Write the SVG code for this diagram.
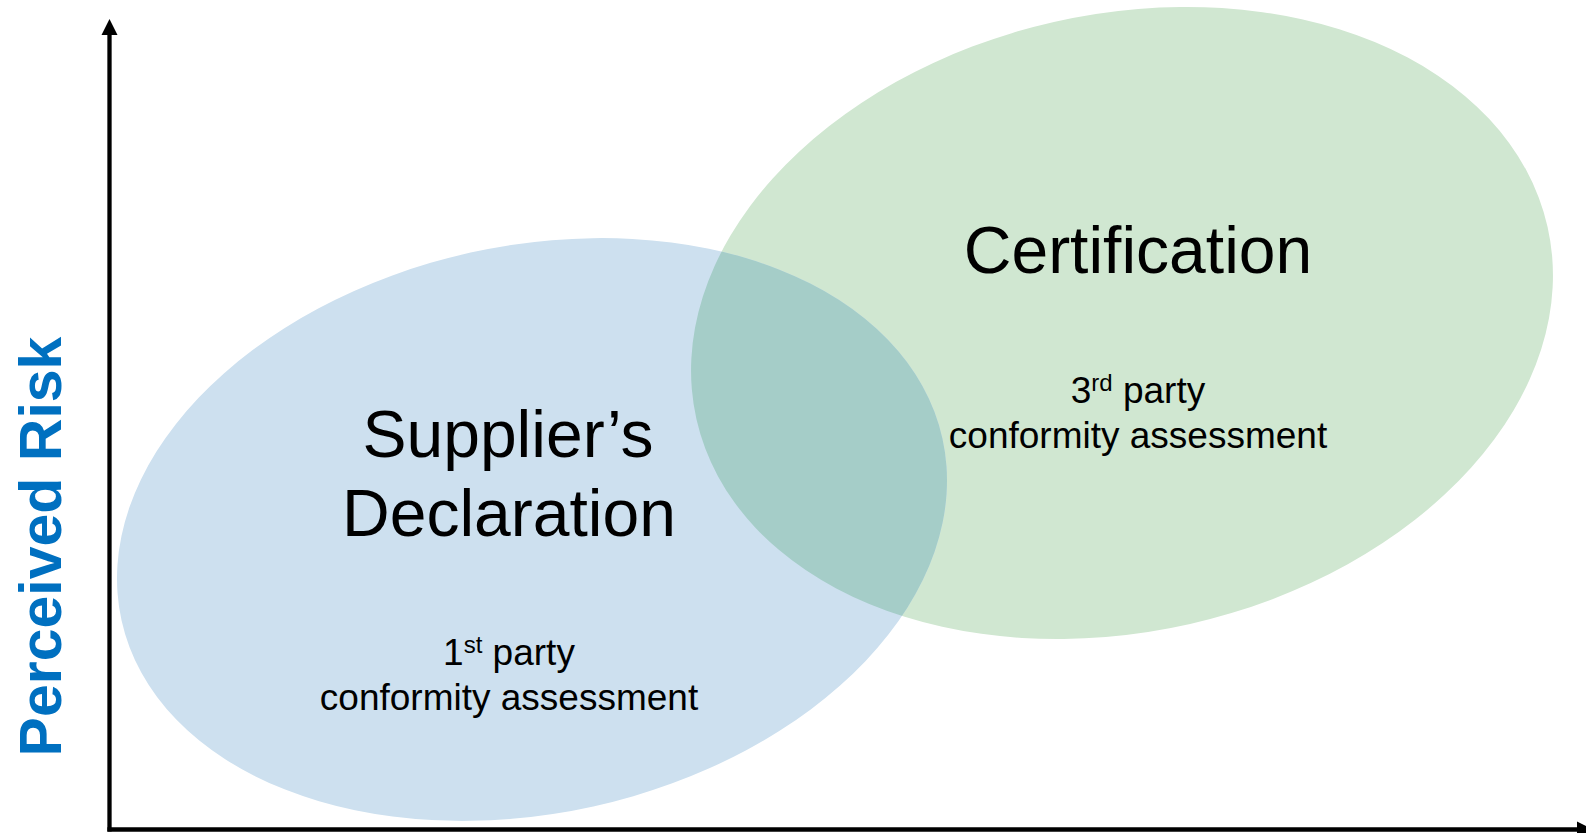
<svg xmlns="http://www.w3.org/2000/svg" width="1586" height="833" viewBox="0 0 1586 833">
<style>
.big{font-family:"Liberation Sans",Arial,sans-serif;font-size:66px;fill:#000;text-anchor:middle}
.small{font-family:"Liberation Sans",Arial,sans-serif;font-size:37px;fill:#000;text-anchor:middle}
.sup{font-size:24px}
.axis{stroke:#000;stroke-width:4.3;fill:none}
.title{font-family:"Liberation Sans",Arial,sans-serif;font-size:59px;font-weight:bold;fill:#0070c0;text-anchor:middle}
</style>
<defs>
<clipPath id="blueClip"><ellipse cx="532" cy="529.5" rx="420.4" ry="283.6" transform="rotate(-12.5 532 529.5)"/></clipPath>
</defs>
<rect width="1586" height="833" fill="#fff"/>
<g id="certification">
<ellipse cx="1122" cy="323" rx="436.3" ry="308.6" transform="rotate(-12.75 1122 323)" fill="#d0e7d1"/>
</g>
<g id="suppliers-declaration">
<ellipse cx="532" cy="529.5" rx="420.4" ry="283.6" transform="rotate(-12.5 532 529.5)" fill="#cde0ef"/>
</g>
<g id="overlap" clip-path="url(#blueClip)">
<ellipse cx="1122" cy="323" rx="436.3" ry="308.6" transform="rotate(-12.75 1122 323)" fill="#a5cdc8"/>
</g>
<g id="labels">
<text class="big" x="1138" y="273">Certification</text>
<text class="small" x="1138" y="403">3<tspan class="sup" dy="-12">rd</tspan><tspan dy="12"> party</tspan></text>
<text class="small" x="1138" y="448">conformity assessment</text>
<text class="big" x="508" y="457">Supplier’s</text>
<text class="big" x="509" y="536">Declaration</text>
<text class="small" x="509" y="665">1<tspan class="sup" dy="-12">st</tspan><tspan dy="12"> party</tspan></text>
<text class="small" x="509" y="710">conformity assessment</text>
</g>
<g id="connectors">
<line class="axis" x1="109.5" y1="831.6" x2="109.5" y2="33"/>
<polygon points="109.5,19 117.5,35 101.5,35" fill="#000"/>
<line class="axis" x1="107.4" y1="829.5" x2="1579" y2="829.5"/>
<polygon points="1593,829.5 1577,821.5 1577,837.5" fill="#000"/>
</g>
<g id="y-axis-label">
<text class="title" transform="translate(61 546.5) rotate(-90)">Perceived Risk</text>
</g>
</svg>
